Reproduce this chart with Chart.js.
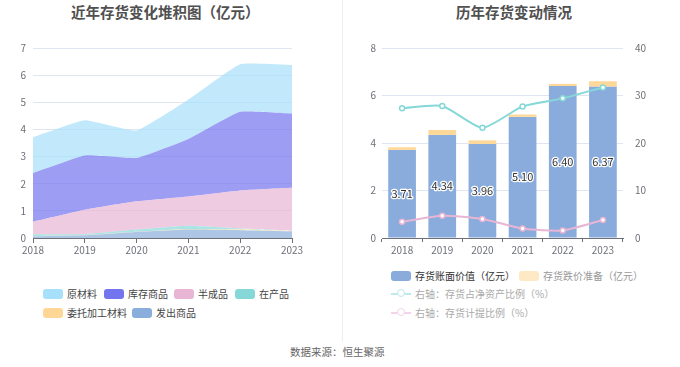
<!DOCTYPE html>
<html>
<head>
<meta charset="utf-8">
<script src="https://cdn.jsdelivr.net/npm/chart.js@4.4.0/dist/chart.umd.min.js"></script>
<style>
  body { margin: 0; background: #fff; font-family: "Noto Sans CJK SC", "Noto Sans", sans-serif; }
  #wrap { position: relative; width: 680px; height: 367px; overflow: hidden; }
  canvas { position: absolute; top: 0; }
  .title { position: absolute; top: 2px; font-size: 14.5px; font-weight: bold; color: #505050; white-space: nowrap; line-height: 20px; }
  .divider { position: absolute; left: 342px; top: 0; width: 1px; height: 342px; background: #eeeeee; }
  .lg { position: absolute; font-size: 10px; line-height: 12px; white-space: nowrap; display: flex; align-items: center; }
  .box { display: inline-block; width: 20px; height: 10px; border-radius: 3px; margin-right: 4px; }
  .lineicon { position: relative; display: inline-block; width: 20px; height: 10px; margin-right: 4px; }
  .lineicon::before { content: ""; position: absolute; left: 0; right: 0; top: 4px; height: 1.5px; background: var(--c); }
  .lineicon::after { content: ""; position: absolute; left: 5.5px; top: 0; width: 6px; height: 6px; border: 1.5px solid var(--c); border-radius: 50%; background: #fff; }
  #footer { position: absolute; left: 290px; top: 344px; font-size: 10.5px; color: #666; white-space: nowrap; }
</style>
</head>
<body>
<div id="wrap">
  <div class="title" style="left:71px">近年存货变化堆积图（亿元）</div>
  <div class="title" style="left:456px">历年存货变动情况</div>
  <div class="divider"></div>
  <canvas id="left" width="340" height="260" style="left:0"></canvas>
  <canvas id="right" width="340" height="260" style="left:340px"></canvas>
  <div id="legendLeft"></div>
  <div id="legendRight"></div>
  <div id="footer">数据来源：恒生聚源</div>
</div>
<script>
const years = ["2018", "2019", "2020", "2021", "2022", "2023"];

// left chart, stacked from bottom up (亿元)
const faChu = [0.06, 0.10, 0.22, 0.31, 0.29, 0.25];
const weiTuo = [0.01, 0.01, 0.01, 0.02, 0.03, 0.01];
const zaiChan = [0.07, 0.03, 0.08, 0.12, 0.03, 0.01];
const banCheng = [0.46, 0.90, 1.04, 1.08, 1.40, 1.58];
const kuCun = [1.79, 2.00, 1.60, 2.12, 2.90, 2.74];
const yuanCai = [1.32, 1.30, 1.01, 1.45, 1.75, 1.78];

// right chart
const bookValue = [3.71, 4.34, 3.96, 5.10, 6.40, 6.37];
const provision = [0.11, 0.21, 0.15, 0.10, 0.09, 0.23];
const netAssetRatio = [27.3, 27.8, 23.2, 27.7, 29.4, 31.7];
const provisionRatio = [3.4, 4.7, 4.0, 2.0, 1.6, 3.8];

const leftYTicks = [0, 1, 2, 3, 4, 5, 6, 7];

const axisColor = "#6e7079";
const gridColor = "#e0e6f1";
const tickFont = { family: "Noto Sans CJK SC", size: 10 };

function rgba(hex, a) {
  const n = parseInt(hex.slice(1), 16);
  return `rgba(${n >> 16},${(n >> 8) & 255},${n & 255},${a})`;
}

const areaSeries = [
  { label: "发出商品", data: faChu, color: "#8aaedc" },
  { label: "委托加工材料", data: weiTuo, color: "#fed796" },
  { label: "在产品", data: zaiChan, color: "#86d8d8" },
  { label: "半成品", data: banCheng, color: "#e8b5d5" },
  { label: "库存商品", data: kuCun, color: "#7375ee" },
  { label: "原材料", data: yuanCai, color: "#a6e0fa" },
];

new Chart(document.getElementById("left"), {
  type: "line",
  data: {
    labels: years,
    datasets: areaSeries.map((s, i) => ({
      label: s.label,
      data: s.data,
      backgroundColor: rgba(s.color, 0.7),
      borderWidth: 0,
      pointRadius: 0,
      tension: 0.12,
      fill: i === 0 ? "origin" : "-1",
    })),
  },
  options: {
    responsive: false,
    animation: false,
    layout: { padding: { left: 0, right: 48, top: 48, bottom: 0 } },
    plugins: { legend: { display: false }, tooltip: { enabled: false } },
    scales: {
      x: {
        offset: false,
        grid: { drawOnChartArea: false, drawTicks: true, tickLength: 5, color: axisColor },
        border: { color: axisColor },
        ticks: { color: axisColor, font: tickFont, padding: 1, maxRotation: 0 },
        afterFit: (s) => { s.height = 22; },
      },
      y: {
        stacked: true,
        min: 0,
        max: 7,
        afterBuildTicks: (s) => { s.ticks = leftYTicks.map((v) => ({ value: v })); },
        grid: { color: gridColor, drawTicks: false },
        border: { display: false },
        ticks: { color: axisColor, font: tickFont, padding: 7 },
        afterFit: (s) => { s.width = 33; },
      },
    },
  },
});

const barLabels = {
  id: "barLabels",
  afterDatasetsDraw(chart) {
    const ctx = chart.ctx;
    const meta = chart.getDatasetMeta(0);
    ctx.save();
    ctx.font = "11px 'Noto Sans CJK SC'";
    ctx.textAlign = "center";
    ctx.textBaseline = "middle";
    ctx.lineJoin = "round";
    meta.data.forEach((bar, i) => {
      const p = bar.getProps(["x", "y", "base"], true);
      const txt = bookValue[i].toFixed(2);
      const cy = (p.y + p.base) / 2;
      ctx.strokeStyle = "#ffffff";
      ctx.lineWidth = 2.5;
      ctx.strokeText(txt, p.x, cy);
      ctx.fillStyle = "#333333";
      ctx.fillText(txt, p.x, cy);
    });
    ctx.restore();
  },
};

new Chart(document.getElementById("right"), {
  type: "bar",
  data: {
    labels: years,
    datasets: [
      { label: "存货账面价值（亿元）", data: bookValue, backgroundColor: "#8aacdc", stack: "s", yAxisID: "y", order: 2,
        barPercentage: 0.69, categoryPercentage: 1 },
      { label: "存货跌价准备（亿元）", data: provision, backgroundColor: "#fed898", stack: "s", yAxisID: "y", order: 2,
        barPercentage: 0.69, categoryPercentage: 1 },
      { type: "line", label: "右轴：存货占净资产比例（%）", data: netAssetRatio, yAxisID: "y1", order: 0,
        borderColor: "#86d8d8", borderWidth: 2, tension: 0.2, pointRadius: 2.5, pointBorderWidth: 1.5,
        pointBackgroundColor: "#ffffff", pointBorderColor: "#86d8d8" },
      { type: "line", label: "右轴：存货计提比例（%）", data: provisionRatio, yAxisID: "y1", order: 0,
        borderColor: "#e8b5d5", borderWidth: 2, tension: 0.2, pointRadius: 2.5, pointBorderWidth: 1.5,
        pointBackgroundColor: "#ffffff", pointBorderColor: "#e8b5d5" },
    ],
  },
  options: {
    responsive: false,
    animation: false,
    layout: { padding: { left: 0, right: 0, top: 48, bottom: 0 } },
    plugins: { legend: { display: false }, tooltip: { enabled: false } },
    scales: {
      x: {
        stacked: true,
        grid: { drawOnChartArea: false, drawTicks: true, tickLength: 4, color: axisColor },
        border: { color: axisColor },
        ticks: { color: axisColor, font: tickFont, padding: 2, maxRotation: 0 },
        afterFit: (s) => { s.height = 22; },
      },
      y: {
        stacked: true,
        position: "left",
        min: 0,
        max: 8,
        ticks: { stepSize: 2, color: axisColor, font: tickFont, padding: 6 },
        grid: { color: gridColor, drawTicks: false },
        border: { display: false },
        afterFit: (s) => { s.width = 42; },
      },
      y1: {
        position: "right",
        min: 0,
        max: 40,
        ticks: { stepSize: 10, color: axisColor, font: tickFont, padding: 4 },
        grid: { display: false },
        border: { display: false },
        afterFit: (s) => { s.width = 57; },
      },
    },
  },
  plugins: [barLabels],
});

// legends
const leftLegend = [
  { t: "原材料", c: "#a6e0fa", x: 43, y: 289 },
  { t: "库存商品", c: "#7375ee", x: 104, y: 289 },
  { t: "半成品", c: "#e8b5d5", x: 174, y: 289 },
  { t: "在产品", c: "#86d8d8", x: 235, y: 289 },
  { t: "委托加工材料", c: "#fed796", x: 43, y: 308 },
  { t: "发出商品", c: "#8aaedc", x: 132, y: 308 },
];
const ll = document.getElementById("legendLeft");
leftLegend.forEach((it) => {
  const d = document.createElement("div");
  d.className = "lg";
  d.style.left = it.x + "px";
  d.style.top = (it.y - 1) + "px";
  d.style.color = "#444";
  d.innerHTML = `<span class="box" style="background:${it.c}"></span>${it.t}`;
  ll.appendChild(d);
});

const rightLegend = [
  { t: "存货账面价值（亿元）", kind: "box", c: "#8aacdc", tc: "#333", x: 391, y: 271 },
  { t: "存货跌价准备（亿元）", kind: "box", c: "#ffe8c4", tc: "#999", x: 519, y: 271 },
  { t: "右轴：存货占净资产比例（%）", kind: "line", c: "#bdeaea", tc: "#aaa", x: 391, y: 289 },
  { t: "右轴：存货计提比例（%）", kind: "line", c: "#f2d6e8", tc: "#aaa", x: 391, y: 308 },
];
const rl = document.getElementById("legendRight");
rightLegend.forEach((it) => {
  const d = document.createElement("div");
  d.className = "lg";
  d.style.left = it.x + "px";
  d.style.top = (it.y - 1) + "px";
  d.style.color = it.tc;
  d.innerHTML = it.kind === "box"
    ? `<span class="box" style="background:${it.c}"></span>${it.t}`
    : `<span class="lineicon" style="--c:${it.c}"></span>${it.t}`;
  rl.appendChild(d);
});
</script>
</body>
</html>
